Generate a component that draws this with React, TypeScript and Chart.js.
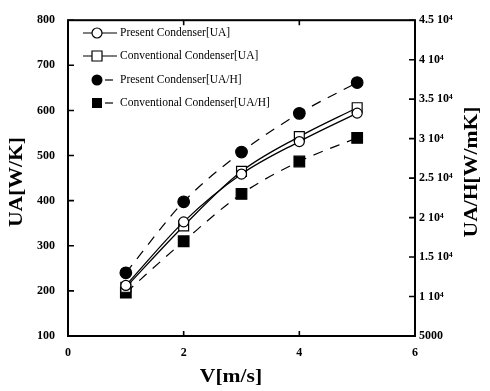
import React, { useEffect, useRef } from "react";
import { Chart, registerables } from "chart.js";

Chart.register(...registerables);

const velocity = [1, 2, 3, 4, 5];
const presentUA = [212, 353, 459, 531, 594];
const conventionalUA = [208, 344, 465, 542, 606];
const presentUAH = [13000, 22000, 28300, 33200, 37100];
const conventionalUAH = [10500, 17000, 23000, 27100, 30100];

const xTickValues = [0, 2, 4, 6];
const leftTickValues = [100, 200, 300, 400, 500, 600, 700, 800];
const rightTickValues = [5000, 10000, 15000, 20000, 25000, 30000, 35000, 40000, 45000];
const rightTickLabels = ["5000", "1 10⁴", "1.5 10⁴", "2 10⁴", "2.5 10⁴", "3 10⁴", "3.5 10⁴", "4 10⁴", "4.5 10⁴"];

const legendLabels = [
  "Present Condenser[UA]",
  "Conventional Condenser[UA]",
  "Present Condenser[UA/H]",
  "Conventional Condenser[UA/H]",
];

const SERIF = "'Liberation Serif', 'Times New Roman', serif";

function drawStretched(ctx: CanvasRenderingContext2D, text: string, x: number, y: number, rot: number, font: string, sx: number) {
  ctx.save();
  ctx.translate(x, y);
  ctx.rotate(rot);
  ctx.scale(sx, 1);
  ctx.font = font;
  ctx.fillStyle = "#000";
  ctx.textAlign = "center";
  ctx.textBaseline = "middle";
  ctx.fillText(text, 0, 0);
  ctx.restore();
}

const decorPlugin = {
  id: "decor",
  afterDraw(chart: any) {
    const { ctx, chartArea: a, scales } = chart;
    ctx.save();
    ctx.strokeStyle = "#000";
    ctx.lineWidth = 2;
    ctx.strokeRect(a.left, a.top, a.right - a.left, a.bottom - a.top);

    ctx.lineWidth = 1.6;
    ctx.beginPath();
    leftTickValues.forEach((v) => {
      const py = scales.y.getPixelForValue(v);
      ctx.moveTo(a.left, py);
      ctx.lineTo(a.left + 6, py);
    });
    rightTickValues.forEach((v) => {
      const py = scales.y1.getPixelForValue(v);
      ctx.moveTo(a.right - 6, py);
      ctx.lineTo(a.right, py);
    });
    xTickValues.forEach((v) => {
      const px = scales.x.getPixelForValue(v);
      ctx.moveTo(px, a.bottom);
      ctx.lineTo(px, a.bottom - 5);
      ctx.moveTo(px, a.top);
      ctx.lineTo(px, a.top + 5);
    });
    ctx.stroke();

    // axis titles
    const titleFont = `bold 18px ${SERIF}`;
    drawStretched(ctx, "UA[W/K]", 17, 182, -Math.PI / 2, titleFont, 1.2);
    drawStretched(ctx, "UA/H[W/mK]", 472, 172, -Math.PI / 2, titleFont, 1.2);
    drawStretched(ctx, "V[m/s]", 231, 377, 0, titleFont, 1.2);

    // legend
    const rows = [33, 56, 80, 103];
    const mx = 97;
    ctx.fillStyle = "#000";
    ctx.lineWidth = 1.2;
    rows.forEach((ry, i) => {
      ctx.setLineDash([]);
      ctx.beginPath();
      if (i < 2) {
        ctx.moveTo(83, ry);
        ctx.lineTo(117, ry);
      } else {
        ctx.moveTo(105, ry);
        ctx.lineTo(113, ry);
      }
      ctx.stroke();
      ctx.beginPath();
      if (i === 0) {
        ctx.fillStyle = "#fff";
        ctx.arc(mx, ry, 5, 0, Math.PI * 2);
        ctx.fill();
        ctx.stroke();
      } else if (i === 1) {
        ctx.fillStyle = "#fff";
        ctx.rect(mx - 5, ry - 5, 10, 10);
        ctx.fill();
        ctx.stroke();
      } else if (i === 2) {
        ctx.fillStyle = "#000";
        ctx.arc(mx, ry, 5.5, 0, Math.PI * 2);
        ctx.fill();
      } else {
        ctx.fillStyle = "#000";
        ctx.rect(mx - 5, ry - 5, 10, 10);
        ctx.fill();
      }
      ctx.fillStyle = "#000";
      ctx.font = `11.5px ${SERIF}`;
      ctx.textAlign = "left";
      ctx.textBaseline = "middle";
      ctx.fillText(legendLabels[i], 120, ry);
    });
    ctx.restore();
  },
};

export default function App() {
  const canvasRef = useRef<HTMLCanvasElement | null>(null);

  useEffect(() => {
    if (!canvasRef.current) return;
    const toPts = (ys: number[]) => velocity.map((x, i) => ({ x, y: ys[i] }));
    const tickFont = { family: SERIF, size: 12, weight: "bold" as const };
    const chart = new Chart(canvasRef.current, {
      type: "line",
      data: {
        datasets: [
          {
            label: legendLabels[0],
            data: toPts(presentUA),
            yAxisID: "y",
            borderColor: "#000",
            borderWidth: 1.3,
            pointStyle: "circle",
            pointRadius: 5,
            pointBackgroundColor: "#fff",
            pointBorderColor: "#000",
            pointBorderWidth: 1.2,
            cubicInterpolationMode: "monotone",
          },
          {
            label: legendLabels[1],
            data: toPts(conventionalUA),
            yAxisID: "y",
            borderColor: "#000",
            borderWidth: 1.3,
            pointStyle: "rect",
            pointRadius: 7,
            pointBackgroundColor: "#fff",
            pointBorderColor: "#000",
            pointBorderWidth: 1.2,
            cubicInterpolationMode: "monotone",
          },
          {
            label: legendLabels[2],
            data: toPts(presentUAH),
            yAxisID: "y1",
            borderColor: "#000",
            borderWidth: 1.2,
            borderDash: [10, 8],
            pointStyle: "circle",
            pointRadius: 5.8,
            pointBackgroundColor: "#000",
            pointBorderColor: "#000",
            cubicInterpolationMode: "monotone",
          },
          {
            label: legendLabels[3],
            data: toPts(conventionalUAH),
            yAxisID: "y1",
            borderColor: "#000",
            borderWidth: 1.2,
            borderDash: [10, 8],
            pointStyle: "rect",
            pointRadius: 7.5,
            pointBackgroundColor: "#000",
            pointBorderColor: "#000",
            cubicInterpolationMode: "monotone",
          },
        ],
      },
      options: {
        responsive: false,
        animation: false,
        layout: { padding: { top: 17, left: 0, right: 0, bottom: 0 } },
        plugins: { legend: { display: false }, tooltip: { enabled: false } },
        scales: {
          x: {
            type: "linear",
            min: 0,
            max: 6,
            afterBuildTicks: (s: any) => { s.ticks = xTickValues.map((v) => ({ value: v })); },
            afterFit: (s: any) => { s.height = 55; },
            grid: { display: false, drawTicks: false },
            border: { display: false },
            ticks: { font: tickFont, color: "#000", padding: 10, maxRotation: 0 },
          },
          y: {
            type: "linear",
            position: "left",
            min: 100,
            max: 800,
            afterBuildTicks: (s: any) => { s.ticks = leftTickValues.map((v) => ({ value: v })); },
            afterFit: (s: any) => { s.width = 68; },
            grid: { display: false, drawTicks: false },
            border: { display: false },
            ticks: { font: tickFont, color: "#000", padding: 13 },
          },
          y1: {
            type: "linear",
            position: "right",
            min: 5000,
            max: 45000,
            afterBuildTicks: (s: any) => { s.ticks = rightTickValues.map((v) => ({ value: v })); },
            afterFit: (s: any) => { s.width = 75; },
            grid: { display: false, drawTicks: false },
            border: { display: false },
            ticks: {
              font: tickFont,
              color: "#000",
              padding: 4,
              callback: (v: any) => {
                const idx = rightTickValues.indexOf(Number(v));
                return idx >= 0 ? rightTickLabels[idx] : "";
              },
            },
          },
        },
      },
      plugins: [decorPlugin],
    });
    return () => chart.destroy();
  }, []);

  return (
    <div style={{ position: "absolute", left: 0, top: 0, width: 490, height: 391, background: "#fff" }}>
      <canvas ref={canvasRef} width={490} height={391} style={{ display: "block" }} />
    </div>
  );
}
